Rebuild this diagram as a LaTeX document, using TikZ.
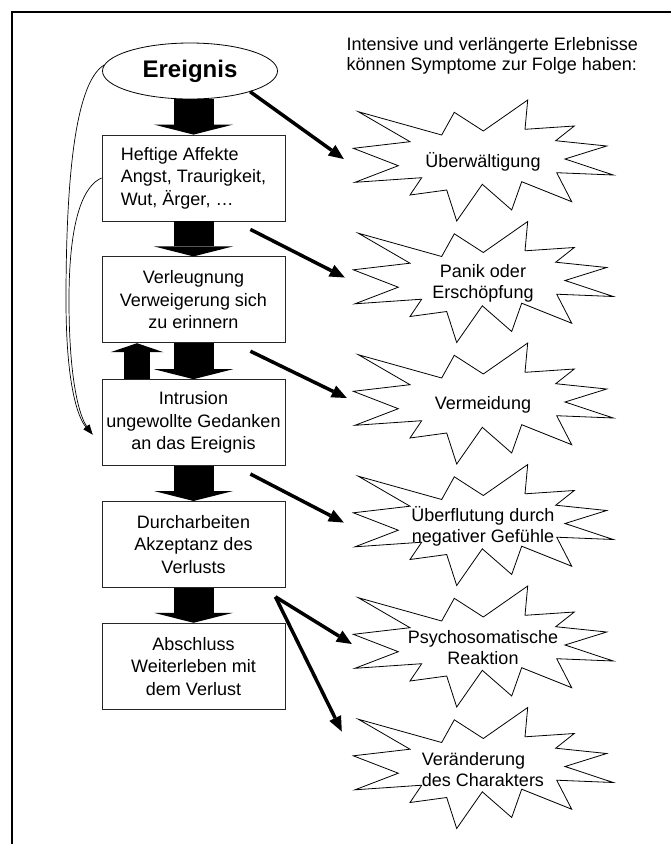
\documentclass[tikz,border=0pt]{standalone}
\usepackage{fontspec}
\setmainfont{Liberation Sans}
\usetikzlibrary{positioning,shapes.geometric,arrows.meta}

\begin{document}
\begin{tikzpicture}[x=1pt,y=-1pt,
font=\fontsize{18}{22.5}\selectfont,
box/.style={%
draw=black!85,
line width=0.8pt,
minimum width=183pt,
minimum height=86pt,
inner sep=0pt,
align=center
},
burstnode/.style={%
minimum width=260pt,
minimum height=121pt,
inner sep=0pt,
align=center,
font=\fontsize{18}{21}\selectfont
},
burst/.pic={%
\draw[line width=0.8pt](-124.7,-50.3)--(-41.3,-27)--(-28.7,-49.7)--(0.3,-31)--(44.7,-62)--(42,-32.7)--(91.3,-36)--(72.7,-21.3)--(123.7,-16)--(82,-3)--(130.3,13)--(73.7,10.7)--(88.7,39.7)--(38.7,19.7)--(28.7,48)--(-0.7,22.3)--(-26.3,59)--(-36.3,28)--(-73,33)--(-61.3,15.7)--(-128,20.3)--(-84.7,3.7)--(-129.7,-13.7)--(-73,-20.3)--cycle;
},
blk/.style={line width=40pt,-{Triangle[length=10pt,width=79pt,line width=0pt]}},
link/.style={line width=3.5pt,-{Triangle[length=15pt,width=13pt,line width=0pt]}},
back/.style={line width=0.7pt,-{Triangle[length=10pt,width=7pt,line width=0pt]}}
]
\useasboundingbox(0,0)rectangle(671,844);
%% Frame
\draw[line width=2pt](680,12)--(12,12)--(12,850);
%% Header
\node[anchor=north west,align=left,inner sep=0pt,font=\fontsize{18}{20.5}\selectfont]at(346.5,37)(head){Intensive und verlängerte Erlebnisse\\können Symptome zur Folge haben:};
%% Stages
\node[ellipse,draw,line width=0.8pt,minimum width=175pt,minimum height=56pt,inner sep=0pt,font=\fontsize{24}{28}\selectfont\bfseries]at(190,71)(ev){Ereignis};
\node[box,align=left]at(193.5,178)(aff){Heftige Affekte\\Angst, Traurigkeit,\\Wut, Ärger, …};
\node[box,below=35pt of aff](verl){Verleugnung\\Verweigerung sich\\zu erinnern};
\node[box,below=36pt of verl](intr){Intrusion\\ungewollte Gedanken\\an das Ereignis};
\node[box,below=35pt of intr](durch){Durcharbeiten\\Akzeptanz des\\Verlusts};
\node[box,below=35pt of durch](absch){Abschluss\\Weiterleben mit\\dem Verlust};
%% Block arrows
\draw[blk](aff.north |- ev.south)--(aff.north);
\draw[blk](aff.south)--(verl.north);
\draw[blk](verl.south)--(intr.north);
\draw[blk,line width=26pt,-{Triangle[length=9pt,width=53pt,line width=0pt]}]([xshift=-56.5pt]intr.north)--([xshift=-56.5pt]verl.south);
\draw[blk](intr.south)--(durch.north);
\draw[blk](durch.south)--(absch.north);
%% Symptoms
\node[burstnode]at(483,162)(s1){Überwältigung};
\node[burstnode]at(483,283.5)(s2){Panik oder\\Erschöpfung};
\node[burstnode]at(483,405)(s3){Vermeidung};
\node[burstnode]at(483,526.5)(s4){Überflutung durch\\negativer Gefühle};
\node[burstnode]at(483,648)(s5){Psychosomatische\\Reaktion};
\node[burstnode,align=left]at(483,769.5)(s6){Veränderung\\des Charakters};
\foreach \i in {1,...,6} \pic at(s\i){burst};
%% Links
\draw[link](ev.-19)--([xshift=-9pt,yshift=3pt]s1.west);
\draw[link]([xshift=-35pt,yshift=-8pt]aff.south east)--([xshift=-8pt,yshift=6pt]s2.west);
\draw[link]([xshift=-35pt,yshift=-8pt]verl.south east)--([xshift=-6pt,yshift=7pt]s3.west);
\draw[link]([xshift=-35pt,yshift=-8pt]intr.south east)--([xshift=-9pt,yshift=4pt]s4.west);
\draw[link]([xshift=-10pt,yshift=-9pt]durch.south east)--([xshift=-1pt,yshift=4pt]s5.west);
\draw[link]([xshift=-10pt,yshift=-9pt]durch.south east)--([xshift=-11pt,yshift=38pt]s6.west);
%% Back to intrusion
\coordinate(tip)at([xshift=-9pt,yshift=-12pt]intr.west);
\draw[back](ev.176)..controls(80,80)and(66,150)..(66,300)..controls(66,385)and(78,418)..(tip);
\draw[back](aff.west)..controls(85,185)and(69,215)..(69,300)..controls(69,383)and(80,417)..(tip);
\end{tikzpicture}
\end{document}
